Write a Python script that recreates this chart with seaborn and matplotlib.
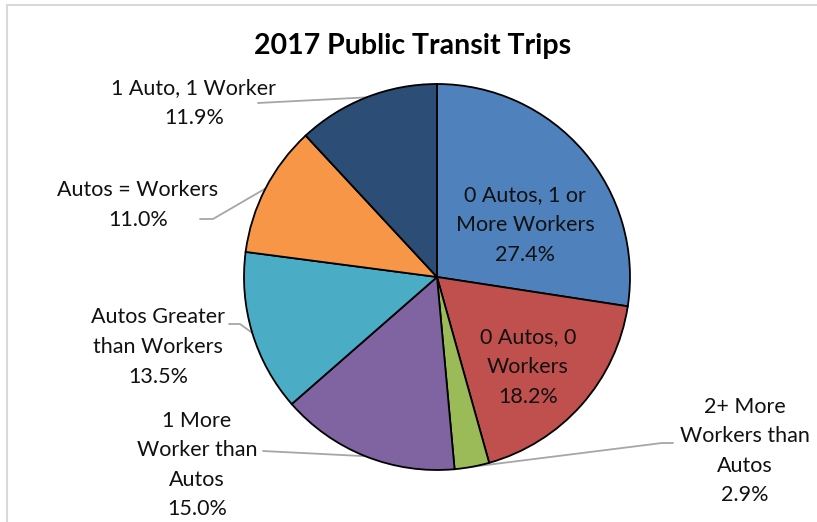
import numpy as np
import matplotlib
matplotlib.use("Agg")
import matplotlib.pyplot as plt
import seaborn as sns

sns.set_style("white")
plt.rcParams['font.family'] = ['Lato', 'DejaVu Sans']

categories = ["0 Autos, 1 or\nMore Workers", "0 Autos, 0\nWorkers", "2+ More\nWorkers than\nAutos",
              "1 More\nWorker than\nAutos", "Autos Greater\nthan Workers", "Autos = Workers", "1 Auto, 1 Worker"]
shares = [27.4, 18.2, 2.9, 15.0, 13.5, 11.0, 11.9]
colors = ["#4F81BD", "#C0504D", "#9BBB59", "#8064A2", "#4BACC6", "#F79646", "#2C4D75"]

W, H = 817, 522
fig = plt.figure(figsize=(W / 100, H / 100), dpi=100)
ax = fig.add_axes([0, 0, 1, 1])

cx, cy, r = 437, H - 277, 193
wedges, _ = ax.pie(shares, colors=colors, startangle=90, counterclock=False,
                   center=(cx, cy), radius=r, frame=True,
                   wedgeprops=dict(edgecolor='black', linewidth=1.3))
ax.set_xlim(0, W)
ax.set_ylim(0, H)
ax.axis('off')

# label centers (pixels from top-left) and leader start / elbow
label_pos = [(525, 225), (528, 367), (745, 451), (197, 465), (158, 347), (138, 205), (194, 103)]
leaders = [None, None, [(673, 443), (662, 443)], [(263, 451)], [(229, 324), (240, 324)],
           [(200, 219), (213, 219)], [(258, 103)]]

for w, cat, val, (lx, ly), ld in zip(wedges, categories, shares, label_pos, leaders):
    ax.text(lx, H - ly, f"{cat}\n{val:.1f}%", ha='center', va='center', fontsize=15.5,
            linespacing=1.6, color='#111111')
    if ld:
        mid = np.deg2rad((w.theta1 + w.theta2) / 2)
        pts = [(x, H - y) for x, y in ld] + [(cx + r * np.cos(mid), cy + r * np.sin(mid))]
        xs, ys = zip(*pts)
        ax.plot(xs, ys, color='#A6A6A6', lw=1.3, zorder=0)

ax.text(413, H - 46, "2017 Public Transit Trips", ha='center', va='center',
        fontsize=20.5, fontweight='bold', color='black')

# chart frame (top and left visible)
ax.plot([7, W], [H - 5, H - 5], color='#D9D9D9', lw=1.5)
ax.plot([7, 7], [H - 5, 0], color='#D9D9D9', lw=1.5)

fig.savefig("out.png", dpi=100)
